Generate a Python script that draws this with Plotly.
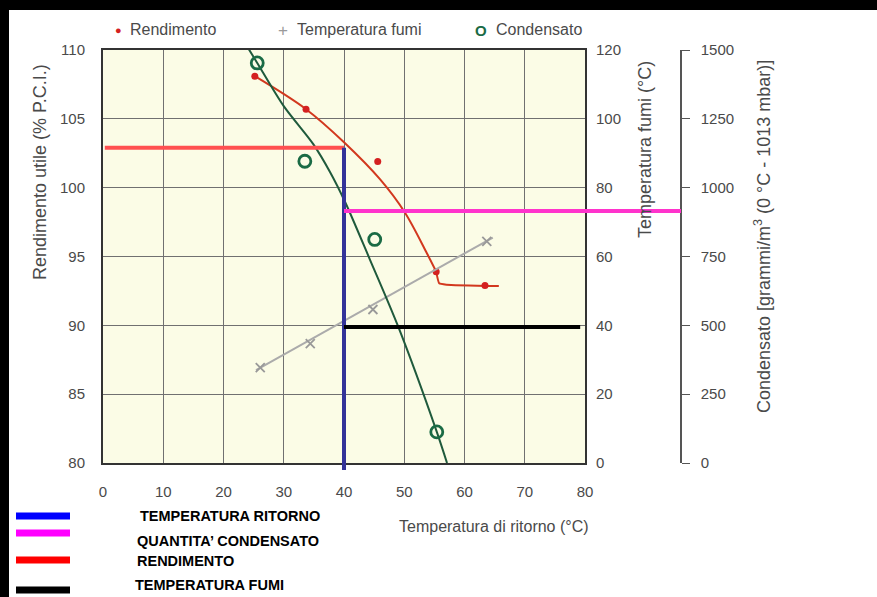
import plotly.graph_objects as go

# ---------------- data ----------------
# Rendimento utile (% P.C.I.) - left axis
rend_x = [25.2, 33.7, 45.6, 55.3, 63.4]
rend_y = [108.1, 105.7, 101.9, 93.9, 92.9]
rend_curve_x = [25.2, 33.7, 40.0, 46.0, 50.1, 53.8, 55.3]
rend_curve_y = [108.1, 105.7, 103.3, 100.6, 98.2, 95.2, 93.9]
rend_tail_x = [55.3, 55.8, 57.0, 65.7]
rend_tail_y = [93.9, 93.05, 92.95, 92.85]

# Temperatura fumi (°C) - first right axis
fumi_x = [26.1, 34.4, 44.8, 63.7]
fumi_y = [27.7, 34.7, 44.6, 64.4]
fumi_line_x = [25.4, 64.7]
fumi_line_y = [27.0, 65.5]

# Condensato (g/m3) - second right axis
cond_x = [25.6, 33.5, 45.1, 55.4]
cond_y = [1453, 1096, 812, 113]
cond_curve_x = [24.0, 25.6, 30.0, 34.9, 37.7, 40.2, 44.3, 49.0, 55.4, 57.1]
cond_curve_y = [1510, 1453, 1296, 1158, 1056, 947, 739, 495, 113, 0]

# reading lines
ritorno_sel = 40
rend_sel = 102.9
cond_sel = 915
fumi_sel = 39.5

x_ticks = [0, 10, 20, 30, 40, 50, 60, 70, 80]
y_ticks = [80, 85, 90, 95, 100, 105, 110]
y2_ticks = [0, 20, 40, 60, 80, 100, 120]
y3_ticks = [0, 250, 500, 750, 1000, 1250, 1500]

legend_items = ["TEMPERATURA RITORNO", "QUANTITA’ CONDENSATO", "RENDIMENTO", "TEMPERATURA FUMI"]
legend_colors = ["#0000ff", "#ff00ff", "#ff0000", "#000000"]

# ---------------- layout geometry ----------------
W, H = 877, 597
L, R, T, B = 103, 790, 50, 463          # paper area in pixels
PLOT_R = 585                            # right edge of plotting area
COND_AX = 681                           # condensato axis line position


def px(x):
    return (x - L) / (R - L)


def py(y):
    return (B - y) / (B - T)


xdom = px(PLOT_R)
FONT = "Liberation Sans, Arial, sans-serif"
GREY = "#4a4a4a"

fig = go.Figure()

# Condensato curve + markers
fig.add_trace(go.Scatter(x=cond_curve_x, y=cond_curve_y, mode="lines", yaxis="y3",
                         line=dict(color="#1f5a3c", width=2, shape="spline", smoothing=0.8),
                         hoverinfo="skip", showlegend=False))
fig.add_trace(go.Scatter(x=cond_x, y=cond_y, mode="markers", yaxis="y3", name="Condensato",
                         marker=dict(symbol="circle-open", size=12, color="#1a6b45",
                                     line=dict(width=2.8, color="#1a6b45")),
                         showlegend=False))
# Temperatura fumi
fig.add_trace(go.Scatter(x=fumi_line_x, y=fumi_line_y, mode="lines", yaxis="y2",
                         line=dict(color="#ababab", width=2), hoverinfo="skip", showlegend=False))
fig.add_trace(go.Scatter(x=fumi_x, y=fumi_y, mode="markers", yaxis="y2", name="Temperatura fumi",
                         marker=dict(symbol="x-thin", size=9, color="#999999",
                                     line=dict(width=1.8, color="#999999")),
                         showlegend=False))
# Rendimento
fig.add_trace(go.Scatter(x=rend_curve_x, y=rend_curve_y, mode="lines",
                         line=dict(color="#d2381e", width=2, shape="spline", smoothing=1.0),
                         hoverinfo="skip", showlegend=False))
fig.add_trace(go.Scatter(x=rend_tail_x, y=rend_tail_y, mode="lines",
                         line=dict(color="#d2381e", width=2, shape="spline", smoothing=0.4),
                         hoverinfo="skip", showlegend=False))
fig.add_trace(go.Scatter(x=rend_x, y=rend_y, mode="markers", name="Rendimento",
                         marker=dict(symbol="circle", size=7, color="#d42020"),
                         showlegend=False))

axis_font = dict(family=FONT, size=15, color=GREY)

fig.update_layout(
    width=W, height=H,
    margin=dict(l=L, r=W - R, t=T, b=H - B, pad=0),
    paper_bgcolor="white",
    plot_bgcolor="#fbfce6",
    showlegend=False,
    xaxis=dict(domain=[0, xdom], range=[0, 80], tickvals=x_ticks, showgrid=True,
               gridcolor="#707070", gridwidth=1, showline=True, mirror=True,
               linecolor="#333333", linewidth=2, ticks="", tickfont=axis_font,
               ticklabelstandoff=14, zeroline=False),
    yaxis=dict(range=[80, 110], tickvals=y_ticks, showgrid=True, gridcolor="#707070",
               gridwidth=1, showline=True, mirror=True, linecolor="#333333", linewidth=2,
               ticks="", tickfont=axis_font, ticklabelstandoff=13, zeroline=False),
    yaxis2=dict(range=[0, 120], tickvals=y2_ticks, overlaying="y", side="right",
                anchor="x", showgrid=False, showline=False, ticks="", tickfont=axis_font,
                ticklabelstandoff=10, zeroline=False),
    yaxis3=dict(range=[0, 1500], tickvals=y3_ticks, overlaying="y", side="right",
                anchor="free", position=px(COND_AX), showgrid=False, showline=True,
                linecolor="#555555", linewidth=1.5, ticks="outside", ticklen=8,
                tickcolor="#555555", tickwidth=1.2, tickfont=axis_font,
                ticklabelstandoff=8, zeroline=False),
    yaxis4=dict(range=[0, 1500], tickvals=y3_ticks, overlaying="y", side="left",
                anchor="free", position=px(COND_AX), showgrid=False, showline=False,
                ticks="outside", ticklen=8, tickcolor="#555555", tickwidth=1.2,
                showticklabels=False, zeroline=False),
)

shapes = []
# reading lines
shapes.append(dict(type="line", xref="x", yref="y", x0=0.3, x1=ritorno_sel, y0=rend_sel, y1=rend_sel,
                   line=dict(color="#ff5050", width=4), layer="above"))
shapes.append(dict(type="line", xref="x", yref="paper", x0=ritorno_sel, x1=ritorno_sel,
                   y0=py(470), y1=(rend_sel - 80) / 30,
                   line=dict(color="#333399", width=4), layer="above"))
shapes.append(dict(type="line", xref="x domain", yref="y3", x0=ritorno_sel / 80,
                   x1=(COND_AX - L) / (PLOT_R - L), y0=cond_sel, y1=cond_sel,
                   line=dict(color="#ff33cc", width=4), layer="above"))
shapes.append(dict(type="line", xref="x", yref="y2", x0=ritorno_sel, x1=79.2, y0=fumi_sel, y1=fumi_sel,
                   line=dict(color="#000000", width=4), layer="above"))
# black frame bands of the screenshot
shapes.append(dict(type="rect", xref="paper", yref="paper", x0=px(0), x1=px(W), y0=py(10), y1=py(0),
                   fillcolor="black", line=dict(width=0), layer="above"))
shapes.append(dict(type="rect", xref="paper", yref="paper", x0=px(0), x1=px(9), y0=py(H), y1=py(0),
                   fillcolor="black", line=dict(width=0), layer="above"))
# bottom legend swatches
for c, yy in zip(legend_colors, [516, 533, 560, 590]):
    shapes.append(dict(type="rect", xref="paper", yref="paper", x0=px(16), x1=px(70),
                       y0=py(yy + 3.5), y1=py(yy - 3.5), fillcolor=c, line=dict(width=0)))
fig.update_layout(shapes=shapes)

ann = []


def text(x, y, s, size=15, color=GREY, xanchor="left", angle=0, bold=False):
    ann.append(dict(x=px(x), y=py(y), xref="paper", yref="paper", text=f"<b>{s}</b>" if bold else s,
                    showarrow=False, xanchor=xanchor, yanchor="middle", textangle=angle,
                    font=dict(family=FONT, size=size, color=color)))


# top legend
text(118, 30, "●", size=11, color="#d42020", xanchor="center")
text(128, 30, "Rendimento", size=16)
text(283, 31, "+", size=17, color="#9a9a9a", xanchor="center")
text(295, 30, "Temperatura fumi", size=16)
text(481, 31, "<b>O</b>", size=15, color="#1a6b45", xanchor="center")
text(494, 30, "Condensato", size=16)

# axis titles
text(40, 172, "Rendimento utile (% P.C.I.)", size=18, xanchor="center", angle=-90)
text(645, 150, "Temperatura fumi (°C)", size=18, xanchor="center", angle=-90)
text(763, 237, "Condensato [grammi/m<sup>3</sup> (0 °C - 1013 mbar)]", size=18, xanchor="center", angle=-90)
text(591, 526, "Temperatura di ritorno (°C)", size=16, xanchor="right")

# bottom legend texts
for s, x, y in zip(legend_items, [138, 135, 135, 133], [516, 541, 561, 585]):
    text(x, y, s, size=14.5, color="#000000", bold=True)

fig.update_layout(annotations=ann)

fig.write_html("out.html")
